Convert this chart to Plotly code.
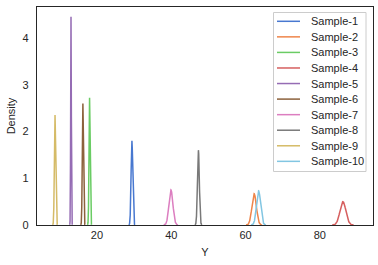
import numpy as np
import plotly.graph_objects as go

samples = ["Sample-1", "Sample-2", "Sample-3", "Sample-4", "Sample-5",
           "Sample-6", "Sample-7", "Sample-8", "Sample-9", "Sample-10"]
centers = [29.4, 62.3, 18.0, 86.2, 13.0, 16.2, 39.9, 47.3, 8.7, 63.5]
peaks = [1.80, 0.67, 2.72, 0.50, 4.45, 2.60, 0.75, 1.60, 2.35, 0.73]
colors = ["#4878D0", "#EE854A", "#6ACC64", "#D65F5F", "#956CB4",
          "#8C613C", "#DC7EC0", "#797979", "#D5BB67", "#82C6E2"]

W, H = 378, 265
ML, MR, MT, MB = 37, 5, 7, 40
PW, PH = W - ML - MR, H - MT - MB

def px_x(px):
    return (px - ML) / PW

def px_y(py):
    return (H - MB - py) / PH

fig = go.Figure()
for name, c, p, col in zip(samples, centers, peaks, colors):
    s = 1.0 / (p * np.sqrt(2 * np.pi))
    x = np.linspace(c - 3.6 * s, c + 3.6 * s, 200)
    y = p * np.exp(-0.5 * ((x - c) / s) ** 2)
    fig.add_trace(go.Scatter(x=x, y=y, mode="lines", name=name, showlegend=False,
                             line=dict(color=col, width=1.5)))

# legend drawn like matplotlib's (compact rows)
shapes = [dict(type="rect", xref="paper", yref="paper",
               x0=px_x(273.5), x1=px_x(366), y0=px_y(171.5), y1=px_y(12.5),
               line=dict(color="#cccccc", width=1), fillcolor="rgba(255,255,255,0.85)",
               layer="above")]
annotations = []
row0, gap = 21.3, 15.56
for i, (name, col) in enumerate(zip(samples, colors)):
    yy = px_y(row0 + i * gap)
    shapes.append(dict(type="line", xref="paper", yref="paper",
                       x0=px_x(277), x1=px_x(300), y0=yy, y1=yy,
                       line=dict(color=col, width=1.5), layer="above"))
    annotations.append(dict(xref="paper", yref="paper", x=px_x(308.5), y=yy,
                            text=name, showarrow=False, xanchor="left", yanchor="middle",
                            font=dict(size=11, color="#262626")))

axis_common = dict(showgrid=False, zeroline=False, showline=True, mirror=True,
                   linecolor="#262626", linewidth=1.2, ticks="", automargin=False,
                   tickfont=dict(size=11, color="#262626"))
fig.update_layout(
    width=W, height=H,
    margin=dict(l=ML, r=MR, t=MT, b=MB, autoexpand=False),
    paper_bgcolor="white", plot_bgcolor="white",
    font=dict(family="Liberation Sans, Arial, sans-serif", color="#262626", size=11),
    xaxis=dict(range=[3.85, 94.3], tickvals=[20, 40, 60, 80],
               title=dict(text="Y", font=dict(size=11), standoff=8), **axis_common),
    yaxis=dict(range=[0, 4.66], tickvals=[0, 1, 2, 3, 4], ticklabelstandoff=5,
               title=dict(text="Density", font=dict(size=11), standoff=4), **axis_common),
    shapes=shapes,
    annotations=annotations,
    showlegend=False,
)
fig.write_html("out.html", config={"displayModeBar": False},
               post_script="document.body.style.margin='0';")
